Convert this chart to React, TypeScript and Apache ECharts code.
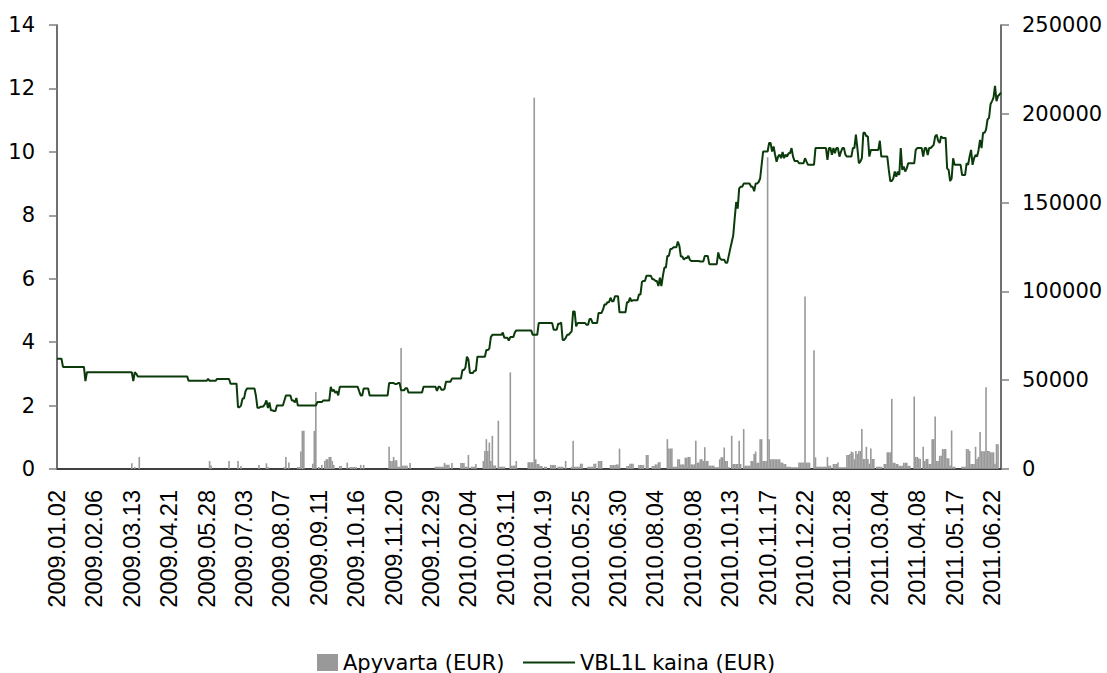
import React, { useEffect, useRef } from "react";
import * as echarts from "echarts";

// Helsinki exchange closing days inside the period (trading calendar)
const holidays: string[] = [
  "2009-01-01", "2009-04-10", "2009-04-13", "2009-05-01", "2009-05-21", "2009-06-19",
  "2009-12-24", "2009-12-25", "2009-12-31",
  "2010-01-01", "2010-04-02", "2010-04-05", "2010-05-13", "2010-06-25", "2010-12-24", "2010-12-31",
  "2011-04-22", "2011-04-25", "2011-06-02", "2011-06-24",
];
const firstDay = "2009-01-02";
const lastDay = "2011-07-01";

// Price (EUR): [trading-day index, price from that day on]
const priceSteps: [number, number][] = [
  [0, 3.48], [4, 3.22], [19, 2.77], [20, 3.05], [51, 2.77], [52, 3.05], [53, 3.0], [54, 2.92],
  [88, 2.78], [101, 2.84], [102, 2.78], [107, 2.84], [116, 2.69], [121, 1.95], [123, 2.0],
  [124, 2.22], [126, 2.45], [127, 2.54], [133, 2.3], [134, 1.93], [136, 1.96], [138, 1.98],
  [139, 2.05], [140, 2.16], [141, 1.92], [142, 2.1], [143, 1.85], [145, 1.83], [147, 2.0],
  [152, 2.16], [153, 2.32], [157, 2.16], [159, 2.1], [160, 2.24], [161, 2.0], [174, 2.11],
  [178, 2.16], [183, 2.59], [184, 2.45], [185, 2.5], [186, 2.4], [187, 2.45], [188, 2.32],
  [189, 2.59], [202, 2.45], [203, 2.32], [205, 2.54], [209, 2.32], [222, 2.71], [226, 2.68],
  [228, 2.71], [230, 2.48], [233, 2.55], [235, 2.41], [245, 2.59], [254, 2.46], [255, 2.59],
  [257, 2.5], [259, 2.52], [260, 2.75], [264, 2.85], [271, 3.12], [273, 3.2], [274, 3.54],
  [275, 3.45], [276, 3.03], [279, 3.1], [281, 3.54], [287, 3.75], [289, 3.8], [290, 4.16],
  [291, 4.23], [298, 4.3], [299, 4.14], [302, 4.05], [303, 4.16], [306, 4.3], [307, 4.37],
  [318, 4.23], [322, 4.6], [332, 4.39], [335, 4.58], [337, 4.62], [338, 4.07], [340, 4.13],
  [341, 4.23], [343, 4.29], [344, 4.34], [345, 4.97], [347, 4.5], [348, 4.6], [354, 4.55],
  [356, 4.73], [358, 4.6], [362, 4.92], [365, 5.03], [366, 5.19], [368, 5.26], [370, 5.4],
  [371, 5.29], [373, 5.45], [376, 4.94], [381, 5.26], [383, 5.4], [384, 5.29], [385, 5.32],
  [389, 5.5], [391, 5.9], [392, 5.93], [394, 6.09], [398, 5.98], [400, 5.93], [402, 5.77],
  [403, 6.03], [404, 5.77], [405, 6.09], [406, 6.35], [408, 6.72], [410, 6.94], [412, 6.99],
  [415, 7.17], [416, 7.04], [417, 6.7], [419, 6.6], [420, 6.65], [422, 6.72], [423, 6.6],
  [424, 6.56], [430, 6.54], [433, 6.72], [436, 6.46], [442, 6.83], [443, 6.65], [444, 6.6],
  [447, 6.5], [449, 6.72], [450, 6.94], [451, 7.15], [452, 7.36], [453, 7.9], [454, 8.42],
  [455, 8.21], [456, 8.85], [457, 8.9], [459, 9.0], [464, 8.9], [466, 8.76], [467, 9.0],
  [469, 9.05], [470, 9.16], [471, 9.59], [472, 10.01], [476, 10.28], [478, 10.01], [479, 10.17],
  [480, 9.91], [481, 9.69], [482, 9.85], [483, 9.91], [484, 9.8], [485, 10.0], [486, 9.8],
  [487, 9.91], [488, 9.85], [489, 9.96], [491, 10.12], [492, 9.85], [493, 9.71], [496, 9.64],
  [500, 9.8], [501, 9.69], [502, 9.59], [507, 10.12], [515, 9.75], [516, 10.12], [518, 9.91],
  [519, 10.12], [520, 9.96], [521, 10.12], [523, 9.85], [524, 10.0], [525, 10.12], [527, 9.91],
  [528, 9.85], [532, 10.12], [534, 10.54], [535, 10.12], [536, 9.64], [537, 9.69], [538, 9.8],
  [539, 10.6], [541, 10.49], [543, 9.85], [544, 10.06], [550, 10.35], [551, 9.85], [556, 9.43],
  [557, 9.08], [559, 9.16], [560, 9.38], [561, 9.22], [562, 9.38], [563, 9.27], [564, 10.12],
  [565, 9.43], [566, 9.54], [567, 9.38], [568, 9.48], [569, 9.64], [574, 10.06], [575, 10.12],
  [579, 9.85], [580, 10.12], [582, 9.9], [583, 10.12], [585, 10.17], [586, 10.22], [587, 10.49],
  [588, 10.54], [589, 10.35], [590, 10.28], [591, 10.49], [592, 10.44], [595, 9.48], [596, 9.43],
  [597, 9.08], [598, 9.16], [599, 9.8], [600, 9.59], [605, 9.27], [608, 9.64], [609, 9.59],
  [610, 9.85], [611, 10.06], [612, 9.59], [613, 9.8], [614, 9.9], [615, 9.85], [616, 10.06],
  [617, 10.38], [618, 10.12], [619, 10.6], [621, 10.7], [622, 11.02], [623, 11.07], [624, 11.5],
  [625, 11.6], [626, 11.71], [627, 12.08], [628, 11.6], [629, 11.76], [630, 11.81], [631, 11.87],
];

// Turnover (EUR): [first day index, last day index, turnover]
const turnoverRuns: [number, number, number][] = [
  [50, 50, 3200], [52, 52, 1100], [55, 55, 6800], [102, 102, 4500], [103, 103, 2000],
  [115, 115, 4500], [121, 121, 4500], [123, 123, 1700], [135, 135, 2300], [140, 140, 3200],
  [141, 141, 1100], [152, 152, 1100], [153, 153, 6800], [155, 155, 3600], [161, 162, 1100],
  [163, 163, 9800], [164, 165, 21500], [171, 171, 3000], [172, 172, 21500], [173, 173, 43300],
  [175, 175, 1100], [177, 177, 2300], [179, 179, 4500], [180, 181, 5500], [182, 183, 6800],
  [184, 184, 4500], [185, 185, 2300], [189, 190, 1700], [194, 194, 3600], [196, 200, 1100],
  [203, 203, 2300], [205, 205, 2300], [222, 222, 12500], [223, 224, 4500], [225, 225, 6800],
  [226, 227, 4900], [228, 229, 1300], [230, 230, 68200], [231, 234, 1900], [236, 236, 3400],
  [253, 258, 1300], [259, 259, 3400], [260, 262, 2400], [264, 264, 3400], [270, 272, 3400],
  [273, 274, 1300], [275, 275, 7900], [277, 279, 1300], [280, 280, 2800], [285, 285, 4500],
  [286, 286, 10200], [287, 287, 16800], [288, 288, 10200], [289, 289, 14900], [290, 290, 4500],
  [291, 291, 18700], [292, 293, 2000], [295, 295, 27200], [296, 299, 1300], [303, 303, 54400],
  [304, 306, 1900], [307, 307, 4500], [315, 318, 3800], [319, 319, 209000], [320, 320, 5500],
  [321, 322, 2800], [323, 324, 1700], [326, 327, 1300], [330, 333, 2300], [335, 338, 1300],
  [340, 340, 4500], [344, 344, 1300], [345, 345, 15900], [346, 349, 1300], [350, 351, 3000],
  [355, 358, 1300], [359, 360, 3000], [362, 364, 4500], [370, 373, 2300], [374, 375, 2600],
  [376, 376, 11500], [381, 382, 1700], [383, 385, 3000], [389, 392, 2300], [394, 395, 7900],
  [398, 399, 1700], [400, 401, 2600], [402, 403, 3800], [408, 408, 16800], [409, 411, 11500],
  [412, 414, 1300], [415, 416, 5500], [417, 419, 2600], [420, 421, 6400], [422, 423, 6800],
  [424, 426, 2600], [427, 427, 15900], [428, 429, 3600], [430, 431, 5500], [432, 432, 4600],
  [433, 433, 12300], [434, 435, 4500], [436, 439, 1900], [440, 442, 1000], [443, 443, 5500],
  [444, 445, 6600], [446, 446, 12100], [447, 448, 4500], [449, 449, 1000], [451, 451, 18700],
  [452, 455, 2800], [456, 456, 15900], [457, 457, 2800], [459, 459, 22500], [460, 463, 1900],
  [464, 465, 4500], [466, 466, 8500], [467, 467, 9800], [468, 469, 3500], [470, 471, 16800],
  [472, 474, 4500], [475, 475, 175600], [476, 476, 16800], [477, 483, 5500], [484, 485, 3600],
  [486, 487, 2800], [488, 490, 1300], [491, 495, 1000], [496, 499, 3600], [500, 500, 97100],
  [501, 503, 3600], [506, 506, 66900], [507, 507, 6600], [508, 514, 1300], [515, 515, 6800],
  [516, 517, 1900], [519, 521, 2800], [522, 522, 3600], [523, 527, 1000], [528, 529, 7900],
  [530, 530, 8500], [531, 531, 9800], [532, 532, 9400], [533, 533, 5500], [534, 534, 10200],
  [535, 535, 8500], [536, 537, 10200], [538, 538, 22500], [539, 540, 5700], [541, 541, 12500],
  [542, 542, 5700], [543, 543, 3000], [544, 544, 11500], [545, 546, 5700], [548, 551, 1300],
  [553, 554, 2800], [555, 557, 9400], [558, 558, 39500], [559, 560, 3500], [561, 562, 2800],
  [563, 565, 1800], [566, 568, 3500], [569, 570, 1800], [573, 573, 40800], [574, 575, 6800],
  [576, 576, 6000], [577, 577, 5700], [579, 579, 12500], [580, 580, 4500], [581, 582, 5700],
  [583, 584, 2800], [585, 586, 16800], [587, 587, 29500], [588, 589, 4500], [590, 591, 7400],
  [592, 594, 11200], [595, 596, 6000], [597, 597, 2000], [598, 598, 21700], [599, 600, 1300],
  [605, 607, 1300], [608, 609, 11200], [610, 610, 10200], [611, 613, 2800], [614, 614, 12500],
  [615, 615, 5700], [616, 616, 6800], [617, 617, 20800], [618, 620, 10000], [621, 621, 46100],
  [622, 623, 10200], [624, 626, 9400], [627, 627, 3000], [628, 629, 14000],
];

const seriesNames = ["Apyvarta (EUR)", "VBL1L kaina (EUR)"];

function tradingDays(): string[] {
  const out: string[] = [];
  const d = new Date(firstDay + "T00:00:00Z");
  const end = new Date(lastDay + "T00:00:00Z").getTime();
  while (d.getTime() <= end) {
    const dow = d.getUTCDay();
    const iso = d.toISOString().slice(0, 10);
    if (dow !== 0 && dow !== 6 && !holidays.includes(iso)) out.push(iso.replace(/-/g, "."));
    d.setUTCDate(d.getUTCDate() + 1);
  }
  return out;
}

export default function App() {
  const ref = useRef<HTMLDivElement>(null);
  useEffect(() => {
    document.body.style.margin = "0";
    if (!ref.current) return;
    const chart = echarts.init(ref.current, undefined, { renderer: "svg" });
    const dates = tradingDays();
    const n = dates.length;
    const price: number[] = [];
    let k = 0;
    for (let i = 0; i < n; i++) {
      while (k + 1 < priceSteps.length && priceSteps[k + 1][0] <= i) k++;
      price.push(priceSteps[k][1]);
    }
    const turnover: number[] = new Array(n).fill(0);
    turnoverRuns.forEach(([a, b, v]) => {
      for (let i = a; i <= b && i < n; i++) turnover[i] = v;
    });
    const yLabel = {
      fontFamily: "DejaVu Sans",
      fontSize: 21,
      color: "#000",
      formatter: (v: number) => String(v),
    };
    const legendText = { fontFamily: "DejaVu Sans", fontSize: 21, color: "#000" };
    chart.setOption({
      animation: false,
      grid: { left: 57, right: 106, top: 25, bottom: 204 },
      xAxis: {
        type: "category",
        data: dates,
        boundaryGap: false,
        axisLine: { lineStyle: { color: "#404040", width: 2 } },
        axisTick: { show: false },
        axisLabel: {
          interval: 24,
          rotate: 90,
          margin: 21,
          fontFamily: "Liberation Sans",
          fontSize: 23.5,
          color: "#000",
        },
        splitLine: { show: false },
      },
      yAxis: [
        {
          type: "value",
          min: 0,
          max: 14,
          interval: 2,
          position: "left",
          axisLine: { show: true, lineStyle: { color: "#404040", width: 1.5 } },
          axisTick: { show: true, length: 8, lineStyle: { color: "#808080", width: 1.5 } },
          axisLabel: { ...yLabel, margin: 22 },
          splitLine: { show: false },
        },
        {
          type: "value",
          min: 0,
          max: 250000,
          interval: 50000,
          position: "right",
          axisLine: { show: true, lineStyle: { color: "#404040", width: 1.5 } },
          axisTick: { show: true, length: 8, lineStyle: { color: "#808080", width: 1.5 } },
          axisLabel: { ...yLabel, margin: 21 },
          splitLine: { show: false },
        },
      ],
      legend: [
        {
          data: [seriesNames[0]],
          left: 312,
          top: 647,
          itemWidth: 21,
          itemHeight: 17,
          icon: "rect",
          textStyle: legendText,
        },
        {
          data: [seriesNames[1]],
          left: 518,
          top: 647,
          itemWidth: 52,
          itemHeight: 2,
          icon: "rect",
          textStyle: legendText,
        },
      ],
      series: [
        {
          name: seriesNames[0],
          type: "bar",
          yAxisIndex: 1,
          data: turnover,
          barWidth: 1.6,
          itemStyle: { color: "#999999" },
        },
        {
          name: seriesNames[1],
          type: "line",
          yAxisIndex: 0,
          data: price,
          symbol: "none",
          showSymbol: false,
          lineStyle: { color: "#0b3b0b", width: 2 },
          itemStyle: { color: "#0b3b0b" },
        },
      ],
    });
    return () => chart.dispose();
  }, []);
  return <div ref={ref} style={{ width: 1107, height: 673 }} />;
}
